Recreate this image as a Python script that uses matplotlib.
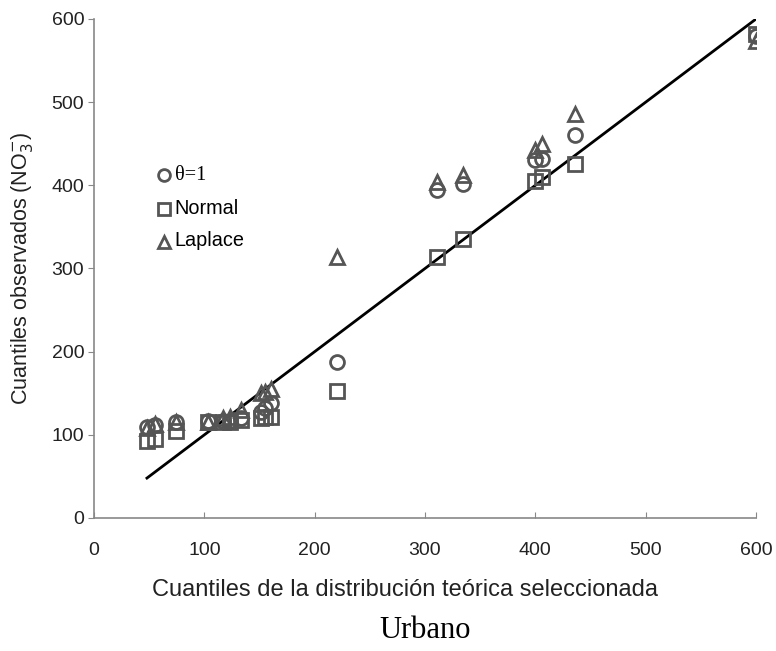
import numpy as np
import matplotlib
matplotlib.use("Agg")
from matplotlib import pyplot as plt

# theoretical quantiles (shared x) and observed quantiles per fitted distribution
x_teorico = [48, 55, 74, 103, 117, 123, 133, 151, 155, 160, 220, 311, 334, 400, 406, 436, 600]
theta_1 = [110, 112, 115, 117, 117, 117, 120, 128, 132, 138, 188, 394, 402, 430, 432, 460, 580]
normal = [93, 95, 105, 115, 115, 116, 118, 120, 121, 121, 153, 314, 336, 405, 410, 426, 582]
laplace = [108, 113, 115, 115, 120, 122, 130, 150, 152, 155, 314, 404, 413, 442, 450, 486, 574]
linea = [48, 55, 74, 103, 117, 123, 133, 151, 155, 160, 220, 311, 334, 400, 406, 436, 600]

gris = "#555555"

fig = plt.figure(figsize=(7.76, 6.51), dpi=100)
ax = fig.add_axes([94 / 776, 1 - 518 / 651, (756 - 94) / 776, (518 - 19) / 651])

ax.plot(x_teorico, linea, color="black", lw=2, zorder=1)
kw = dict(ls="none", mfc="none", mec=gris, mew=2, ms=10, zorder=2)
h1, = ax.plot(x_teorico, theta_1, marker="o", **kw)
h2, = ax.plot(x_teorico, normal, marker="s", **kw)
h3, = ax.plot(x_teorico, laplace, marker="^", **kw)

ax.set_xlim(0, 600)
ax.set_ylim(0, 600)
ax.set_xticks(range(0, 601, 100))
ax.set_yticks(range(0, 601, 100))
for s in ["top", "right"]:
    ax.spines[s].set_visible(False)
for s in ["left", "bottom"]:
    ax.spines[s].set_color("#888888")
    ax.spines[s].set_linewidth(1.2)
ax.tick_params(axis="x", direction="in", length=4, color="#888888", pad=17,
               labelsize=14)
ax.tick_params(axis="y", direction="out", length=4, color="#888888", pad=3,
               labelsize=14)
for lab in ax.get_xticklabels() + ax.get_yticklabels():
    lab.set_fontfamily("Liberation Sans")
    lab.set_color("#222222")

ax.set_xlabel("Cuantiles de la distribución teórica seleccionada",
              fontsize=17, family="Liberation Sans", color="#222222")
ax.xaxis.set_label_coords((405 - 94) / 662, -0.122)
ax.set_ylabel(r"Cuantiles observados (NO$_3^{-}$)",
              fontsize=15.5, family="Liberation Sans", labelpad=12, color="#222222")

leg = ax.legend([h1, h2, h3], ["θ=1", "Normal", "Laplace"], loc="upper left",
                bbox_to_anchor=(0.08, 0.73), frameon=False, handlelength=0.6,
                handletextpad=0.5, labelspacing=0.98, markerscale=0.85)
texts = leg.get_texts()
texts[0].set_fontfamily("Liberation Serif")
texts[0].set_fontsize(14.5)
for t in texts[1:]:
    t.set_fontfamily("Liberation Sans")
    t.set_fontsize(14.3)

fig.text(425 / 776, 1 - 630 / 651, "Urbano", ha="center", va="center",
         fontsize=22, family="Liberation Serif")

fig.savefig("out.png", dpi=100)
